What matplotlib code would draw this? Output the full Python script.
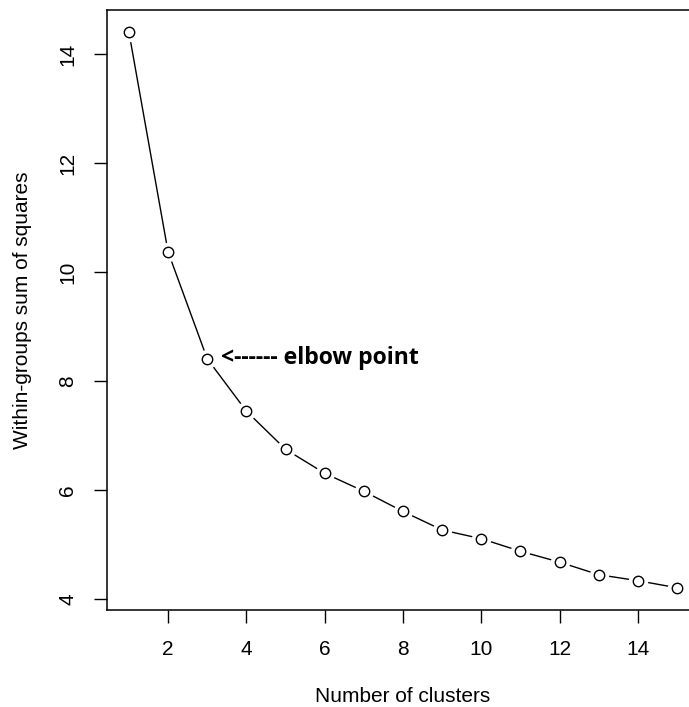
import numpy as np
import matplotlib.pyplot as plt

# number of clusters vs within-groups sum of squares
clusters = np.arange(1, 16)
wss = [14.40, 10.37, 8.41, 7.45, 6.75, 6.31, 5.98, 5.61,
       5.27, 5.11, 4.88, 4.68, 4.45, 4.34, 4.21]
x_ticks = [2, 4, 6, 8, 10, 12, 14]
y_ticks = [4, 6, 8, 10, 12, 14]

plt.rcParams['font.family'] = ['Liberation Sans', 'DejaVu Sans']


def r_range(vals):
    # R style axis range: data range padded by 4% on each side
    lo, hi = min(vals), max(vals)
    pad = (hi - lo) * 0.04
    return lo - pad, hi + pad


fig = plt.figure(figsize=(6.89, 7.07), dpi=100)
ax = fig.add_axes([107 / 689, 97 / 707, 592 / 689, 600 / 707])

# type="b" look: line, white disks to cut gaps, then open circles
ax.plot(clusters, wss, color='black', lw=1.0, zorder=2)
ax.plot(clusters, wss, ls='none', marker='o', ms=14, mfc='white',
        mec='none', zorder=3)
ax.plot(clusters, wss, ls='none', marker='o', ms=7.5, mfc='white',
        mec='black', mew=1.0, zorder=4)

ax.set_xlim(*r_range(clusters))
ax.set_ylim(*r_range(wss))
ax.set_xticks(x_ticks)
ax.set_yticks(y_ticks)

# right side of the box falls outside the picture
ax.spines['right'].set_visible(False)
for s in ax.spines.values():
    s.set_linewidth(1.1)

ax.tick_params(axis='both', direction='out', length=9.5, width=1.0,
               labelsize=15, colors='black')
ax.tick_params(axis='x', pad=12)
ax.tick_params(axis='y', pad=12, labelrotation=90)
for lab in ax.get_yticklabels():
    lab.set_verticalalignment('center')

ax.set_xlabel('Number of clusters', fontsize=15)
ax.set_ylabel('Within-groups sum of squares', fontsize=15)
ax.xaxis.label.set_verticalalignment('baseline')
ax.xaxis.set_label_coords((403 - 107) / 592, -(702 - 610) / 600)
ax.yaxis.set_label_coords(-(107 - 32) / 592, 0.5)

ax.annotate('<------ elbow point', xy=(clusters[2], wss[2]),
            xytext=(10, -3.6), textcoords='offset points',
            ha='left', va='baseline', fontsize=16.6, fontweight='bold',
            family=['Open Sans', 'DejaVu Sans'], zorder=5)

fig.savefig('out.png', dpi=100)
